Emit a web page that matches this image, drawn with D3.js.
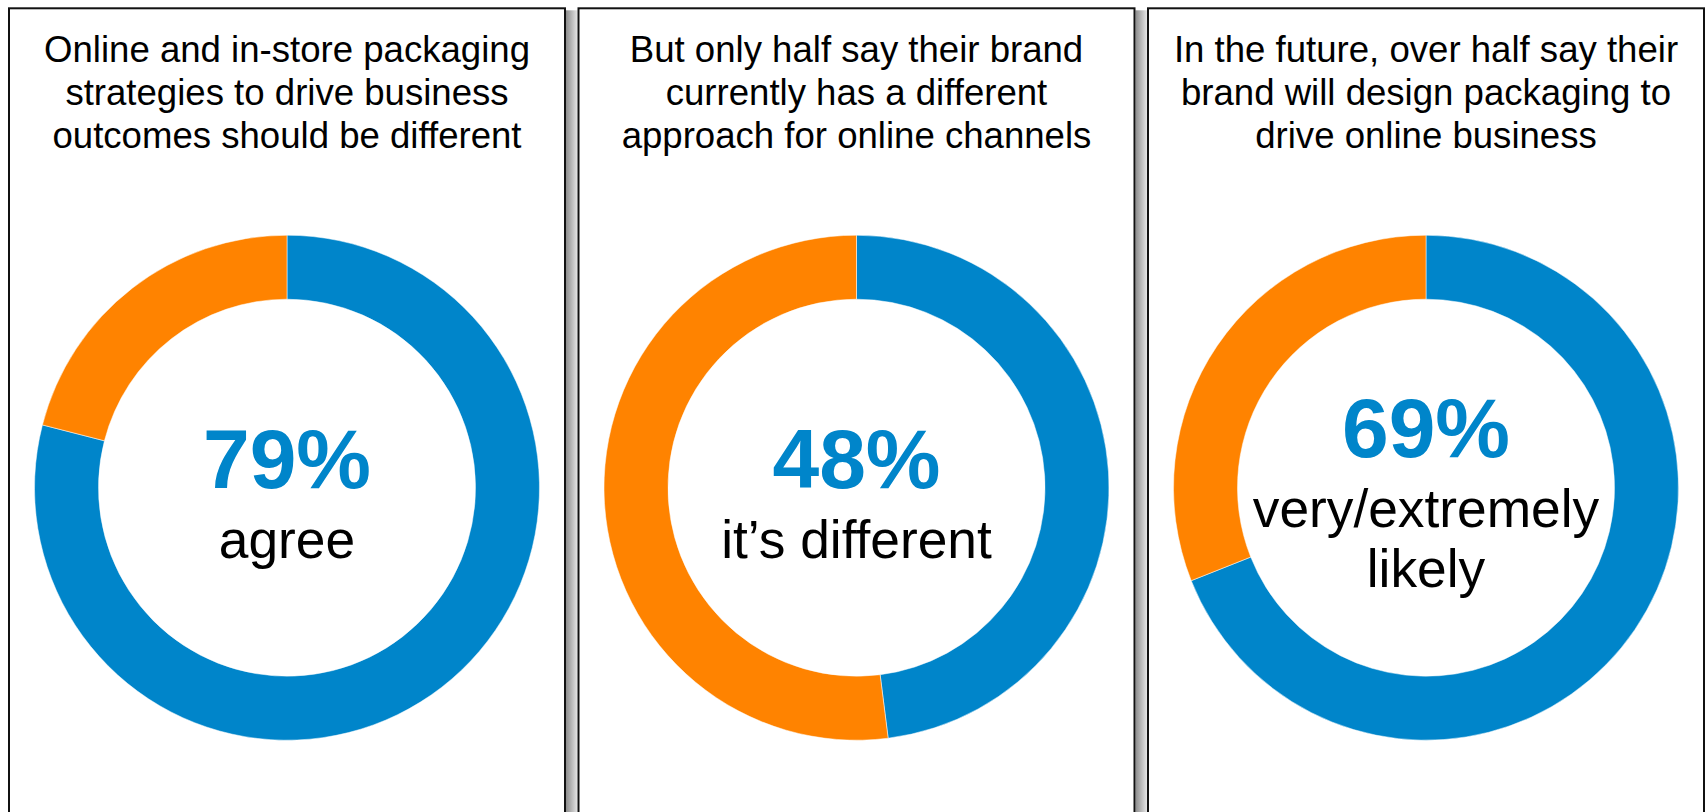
<!DOCTYPE html>
<html>
<head>
<meta charset="utf-8">
<script src="https://cdn.jsdelivr.net/npm/d3@7/dist/d3.min.js"></script>
<style>
  html, body { margin: 0; padding: 0; background: #fff; }
  svg { display: block; }
  text { font-family: Arial, "Liberation Sans", sans-serif; }
</style>
</head>
<body>
<svg id="chart" width="1705" height="812"></svg>
<script>
// Survey share per panel (percent answering the highlighted option)
const values = [79, 48, 69];

// Panel headings, one entry per line
const titles = [
  ["Online and in-store packaging", "strategies to drive business", "outcomes should be different"],
  ["But only half say their brand", "currently has a different", "approach for online channels"],
  ["In the future, over half say their", "brand will design packaging to", "drive online business"]
];

// Caption under each percentage
const captions = [
  ["agree"],
  ["it\u2019s different"],
  ["very/extremely", "likely"]
];

const BLUE = "#0085CA";
const ORANGE = "#FF8300";

const svg = d3.select("#chart");

// Panel geometry
const panelLeft = 9, panelStep = 569.5, panelW = 556, panelTop = 8.3, panelH = 900;
const cy = 487.7, rOuter = 252.5, rInner = 188.5;

const defs = svg.append("defs");
const grad = defs.append("linearGradient").attr("id", "shadow")
  .attr("x1", "0%").attr("x2", "100%").attr("y1", "0%").attr("y2", "0%");
grad.append("stop").attr("offset", "0%").attr("stop-color", "#8c8c8c");
grad.append("stop").attr("offset", "100%").attr("stop-color", "#e6e6e6");

const pie = d3.pie().sort(null).startAngle(0).endAngle(2 * Math.PI);
const arc = d3.arc().innerRadius(rInner).outerRadius(rOuter);
const color = d3.scaleOrdinal().domain(["yes", "rest"]).range([BLUE, ORANGE]);

values.forEach((v, i) => {
  const x0 = panelLeft + i * panelStep;
  const g = svg.append("g");

  // soft shadow on the right side of the panel
  g.append("rect")
    .attr("x", x0 + panelW + 1).attr("y", panelTop + 2)
    .attr("width", 11.5).attr("height", panelH)
    .attr("fill", "url(#shadow)");

  g.append("rect")
    .attr("x", x0).attr("y", panelTop)
    .attr("width", panelW).attr("height", panelH)
    .attr("fill", "#fff").attr("stroke", "#111").attr("stroke-width", 2);

  const cx = x0 + panelW / 2;

  // heading
  g.append("text")
    .attr("text-anchor", "middle")
    .attr("font-size", 36.6)
    .attr("fill", "#000")
    .selectAll("tspan")
    .data(titles[i])
    .join("tspan")
    .attr("x", cx)
    .attr("y", (d, k) => 61.5 + k * 43.4)
    .text(d => d);

  // donut
  const keys = ["yes", "rest"];
  const data = pie([v, 100 - v]);
  g.append("g")
    .attr("transform", `translate(${cx},${cy})`)
    .selectAll("path")
    .data(data)
    .join("path")
    .attr("d", arc)
    .attr("fill", (d, k) => color(keys[k]))
    .attr("stroke", "#fff")
    .attr("stroke-width", 0.5);

  // centre labels
  const n = captions[i].length;
  const numY = cy - (n - 1) * 30.5;
  g.append("text")
    .attr("x", cx).attr("y", numY)
    .attr("text-anchor", "middle")
    .attr("font-size", 84)
    .attr("font-weight", "bold")
    .attr("fill", BLUE)
    .text(v + "%");

  g.append("text")
    .attr("text-anchor", "middle")
    .attr("font-size", 53.3)
    .attr("fill", "#000")
    .selectAll("tspan")
    .data(captions[i])
    .join("tspan")
    .attr("x", cx)
    .attr("y", (d, k) => numY + 70 + k * 60)
    .text(d => d);
});
</script>
</body>
</html>
